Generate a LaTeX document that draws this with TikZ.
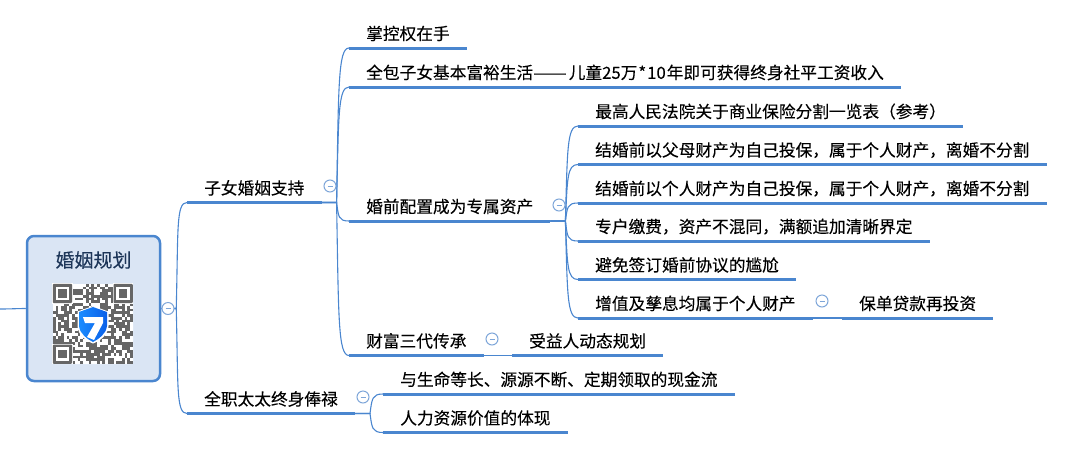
\documentclass[tikz,border=0pt]{standalone}
\usepackage{graphicx}
\usepackage{fontspec}
\usetikzlibrary{calc}
\setmainfont{Noto Sans CJK SC}[FakeBold=0.15]
\definecolor{linkblue}{HTML}{4A86CF}
\definecolor{foldblue}{HTML}{7EA6D9}
\definecolor{rootfill}{HTML}{DAE5F4}
\definecolor{rootink}{HTML}{1C3558}
\definecolor{qrgrey}{HTML}{666666}
\definecolor{shieldleft}{HTML}{1A8CFF}
\definecolor{shieldright}{HTML}{0A5FE8}
\begin{document}
\begin{tikzpicture}[x=1pt,y=-1pt]
\tikzstyle{topic}=[anchor=south west,inner xsep=17pt,inner ysep=1pt,text height=15pt,text depth=7pt,font=\fontsize{16.7pt}{18pt}\selectfont,text=black]
\tikzstyle{rootbox}=[draw=linkblue,line width=2.5pt,fill=rootfill,rounded corners=7pt,minimum width=133pt,minimum height=145pt,inner sep=0pt]
\tikzstyle{roottitle}=[font=\fontsize{19pt}{20pt}\selectfont,text=rootink,inner sep=0pt]
\tikzstyle{underline}=[draw=linkblue,line width=3pt]
\tikzstyle{link}=[draw=linkblue,line width=1.1pt]
\tikzstyle{fold}=[circle,draw=foldblue,fill=white,line width=1pt,minimum size=12pt,inner sep=0pt,path picture={\draw[foldblue,line width=0.8pt] ([xshift=-2.5pt]path picture bounding box.center) -- ([xshift=2.5pt]path picture bounding box.center);}]
\tikzstyle{qrbox}=[fill=white,rounded corners=2pt,minimum size=80pt,inner sep=0pt]
\useasboundingbox (0,0) rectangle (1079,456);
\node[rootbox] (root) at (93.5,308.5) {};
\node[roottitle] (title) at (93.5,260) {婚姻规划};
\coordinate (stub) at (0,309);
\draw[link] (stub) .. controls (10,309) and (18,308.5) .. (root.west);
% level one
\node[topic] (kids) at (187,202.5) {子女婚姻支持};
\node[topic] (wife) at (187,413.5) {全职太太终身俸禄};
% level two
\node[topic] (control) at (349,48) {掌控权在手};
\node[topic] (living) at (349,87) {全包子女基本富裕生活\scalebox{1.2}[1]{——}\kern2pt 儿童25万\kern1pt*\kern1pt 10\kern1pt 年即可获得终身社平工资收入};
\node[topic] (premarital) at (349,221) {婚前配置成为专属资产};
\node[topic] (legacy) at (349,355.5) {财富三代传承};
\node[topic] (benefit) at (512,355.5) {受益人动态规划};
\node[topic] (cashflow) at (383,394) {与生命等长、源源不断、定期领取的现金流};
\node[topic] (human) at (383,432.5) {人力资源价值的体现};
% level three
\node[topic] (court) at (578,126) {最高人民法院关于商业保险分割一览表（参考）};
\node[topic] (parents) at (578,164.5) {结婚前以父母财产为自己投保，属于个人财产，离婚不分割};
\node[topic] (personal) at (578,203) {结婚前以个人财产为自己投保，属于个人财产，离婚不分割};
\node[topic] (account) at (578,241) {专户缴费，资产不混同，满额追加清晰界定};
\node[topic] (awkward) at (578,279.5) {避免签订婚前协议的尴尬};
\node[topic] (growth) at (578,318) {增值及孳息均属于个人财产};
\node[topic] (loan) at (842,318) {保单贷款再投资};
\foreach \n in {kids,wife,control,living,premarital,legacy,benefit,cashflow,human,court,parents,personal,account,awkward,growth,loan}
	\draw[underline] (\n.south west) -- (\n.south east);
\foreach \a/\b in {root.east/kids.south west,root.east/wife.south west,kids.south east/control.south west,kids.south east/living.south west,kids.south east/premarital.south west,kids.south east/legacy.south west,premarital.south east/court.south west,premarital.south east/parents.south west,premarital.south east/personal.south west,premarital.south east/account.south west,premarital.south east/awkward.south west,premarital.south east/growth.south west,wife.south east/cashflow.south west,wife.south east/human.south west}
	\draw[link] let \p1=(\a), \p2=(\b) in (\a) -- ++(15,0) .. controls ({\x1+17pt},{\y1+0.75*(\y2-\y1)}) and ({\x2-11pt},\y2) .. (\b);
\draw[link] (legacy.south east) -- (benefit.south west);
\draw[link] (growth.south east) -- (loan.south west);
\node[fold] (foldroot) at (168,308.5) {};
\node[fold] (foldkids) at (330,186) {};
\node[fold] (foldpre) at (559,205) {};
\node[fold] (foldlegacy) at (492,339) {};
\node[fold] (foldgrowth) at (822,301) {};
\node[fold] (foldwife) at (363,397) {};
% qr code
\node[qrbox] (qrcode) at (93,324) {};
\pgfmathsetseed{7}
\begin{scope}[shift={(qrcode.north west)}]
	\foreach \i in {0,...,28}
		\foreach \j in {0,...,28}{
			\pgfmathparse{rnd<0.58?1:0}
			\ifnum\pgfmathresult=1
				\fill[qrgrey] (\i*2.76,\j*2.76) rectangle ++(2.76,2.76);
			\fi
		}
	\foreach \px/\py in {0/0,60.7/0,0/60.7}{
		\fill[white] (\px-0.5,\py-0.5) rectangle ++(20.3,20.3);
		\fill[qrgrey,rounded corners=1pt] (\px,\py) rectangle ++(19.3,19.3);
		\fill[white] (\px+2.76,\py+2.76) rectangle ++(13.8,13.8);
		\fill[qrgrey] (\px+5.5,\py+5.5) rectangle ++(8.3,8.3);
	}
\end{scope}
\fill[white] (93,306) -- (108.5,311.5) -- (108.5,326) .. controls (108,335) and (100,341) .. (93,343.5) .. controls (86,341) and (78,335) .. (77.5,326) -- (77.5,311.5) -- cycle;
\shade[left color=shieldleft,right color=shieldright] (93,307) -- (107,312) -- (107,326) .. controls (106,334) and (99,339) .. (93,342) .. controls (87,339) and (80,334) .. (79,326) -- (79,312) -- cycle;
\fill[white] (83,317) -- (103,317) -- (103,323) -- (94,340) -- (87,337) -- (95,323) -- (85,323) -- cycle;
\end{tikzpicture}
\end{document}
